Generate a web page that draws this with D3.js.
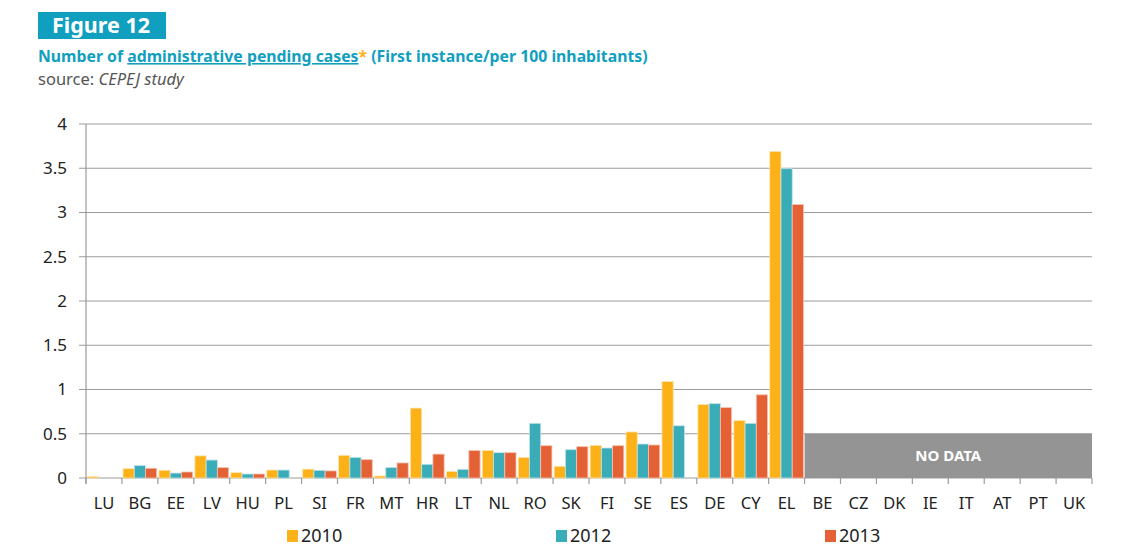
<!DOCTYPE html>
<html>
<head>
<meta charset="utf-8">
<script src="https://cdn.jsdelivr.net/npm/d3@7"></script>
<style>
  body { margin: 0; background: #fff; }
  text { font-family: "Noto Sans", sans-serif; }
</style>
</head>
<body>
<div id="chart"></div>
<script>
// Chart size, same as the window
var svgWidth = 1130;
var svgHeight = 555;

var margin = { top: 124, right: 38, bottom: 77, left: 86 };
var width = svgWidth - margin.left - margin.right;
var height = svgHeight - margin.top - margin.bottom;

// Data
var countries = ["LU","BG","EE","LV","HU","PL","SI","FR","MT","HR","LT","NL","RO","SK","FI","SE","ES","DE","CY","EL","BE","CZ","DK","IE","IT","AT","PT","UK"];
var v2010 = [0.015,0.105,0.087,0.25,0.06,0.09,0.10,0.256,0.023,0.79,0.075,0.31,0.233,0.132,0.369,0.52,1.09,0.83,0.648,3.69,null,null,null,null,null,null,null,null];
var v2012 = [0,0.14,0.056,0.203,0.045,0.09,0.087,0.233,0.12,0.155,0.098,0.286,0.618,0.32,0.339,0.384,0.59,0.84,0.618,3.495,null,null,null,null,null,null,null,null];
var v2013 = [0,0.11,0.068,0.117,0.045,0,0.08,0.207,0.17,0.27,0.31,0.286,0.365,0.354,0.365,0.373,0,0.795,0.94,3.09,null,null,null,null,null,null,null,null];
var years = ["2010", "2012", "2013"];
var yTicks = [0, 0.5, 1, 1.5, 2, 2.5, 3, 3.5, 4];
var noDataValue = 0.5;

var colors = ["#fdb119", "#3aacb8", "#e46136"];
var edges = ["#fde3b0", "#bfe4e8", "#f5c3b2"];

var series = [v2010, v2012, v2013];

var svg = d3.select("#chart")
  .append("svg")
  .attr("width", svgWidth)
  .attr("height", svgHeight);

// Heading
svg.append("rect")
  .attr("x", 38).attr("y", 12)
  .attr("width", 128).attr("height", 27)
  .attr("fill", "#119fbf");

svg.append("text")
  .attr("x", 52).attr("y", 33)
  .attr("fill", "#fff")
  .attr("font-size", 21.5)
  .attr("font-weight", "bold")
  .text("Figure 12");

var title = svg.append("text")
  .attr("x", 38).attr("y", 62)
  .attr("fill", "#119fbf")
  .attr("font-size", 15.8)
  .attr("font-weight", "bold");
title.append("tspan").text("Number of ");
title.append("tspan").attr("text-decoration", "underline").text("administrative pending cases");
title.append("tspan").attr("fill", "#fdb119").text("*");
title.append("tspan").text(" (First instance/per 100 inhabitants)");

var source = svg.append("text")
  .attr("x", 38).attr("y", 85)
  .attr("fill", "#555")
  .attr("font-size", 16.5);
source.append("tspan").text("source: ");
source.append("tspan").attr("font-style", "italic").text("CEPEJ study");

var chartGroup = svg.append("g")
  .attr("transform", `translate(${margin.left}, ${margin.top})`);

// Scales
var xScale = d3.scaleBand()
  .domain(countries)
  .range([0, width]);

var xInner = d3.scaleBand()
  .domain(years)
  .range([0, xScale.bandwidth()])
  .paddingInner(0)
  .paddingOuter(0.1);

var yScale = d3.scaleLinear()
  .domain([0, 4])
  .range([height, 0]);

// Gridlines
chartGroup.append("g")
  .selectAll("line")
  .data(yTicks)
  .enter()
  .append("line")
  .attr("x1", -7)
  .attr("x2", width)
  .attr("y1", d => yScale(d))
  .attr("y2", d => yScale(d))
  .attr("stroke", "#9b9b9b")
  .attr("stroke-width", 1.2);

// Y labels
chartGroup.append("g")
  .selectAll("text")
  .data(yTicks)
  .enter()
  .append("text")
  .attr("x", -19)
  .attr("y", d => yScale(d))
  .attr("dy", "0.35em")
  .attr("text-anchor", "end")
  .attr("font-size", 17)
  .attr("fill", "#222")
  .text(d => d);

// No data box
var firstMissing = countries[v2010.indexOf(null)];
chartGroup.append("rect")
  .attr("x", xScale(firstMissing))
  .attr("y", yScale(noDataValue))
  .attr("width", width - xScale(firstMissing))
  .attr("height", height - yScale(noDataValue))
  .attr("fill", "#949494");

chartGroup.append("text")
  .attr("x", (xScale(firstMissing) + width) / 2)
  .attr("y", yScale(noDataValue / 2))
  .attr("dy", "0.35em")
  .attr("text-anchor", "middle")
  .attr("fill", "#fff")
  .attr("font-size", 15)
  .attr("font-weight", "bold")
  .text("NO DATA");

// Bars
series.forEach(function(vals, s) {
  chartGroup.append("g")
    .selectAll("rect")
    .data(countries.map((c, i) => ({ c: c, v: vals[i] })).filter(d => d.v))
    .enter()
    .append("rect")
    .attr("x", d => xScale(d.c) + xInner(years[s]))
    .attr("y", d => yScale(d.v))
    .attr("width", xInner.bandwidth())
    .attr("height", d => height - yScale(d.v))
    .attr("fill", colors[s])
    .attr("stroke", edges[s])
    .attr("stroke-width", 0.8);
});

// Axes lines
chartGroup.append("line")
  .attr("x1", 0).attr("x2", 0)
  .attr("y1", 0).attr("y2", height + 6)
  .attr("stroke", "#9b9b9b")
  .attr("stroke-width", 1.2);

chartGroup.append("g")
  .selectAll("line")
  .data(countries.concat(["end"]))
  .enter()
  .append("line")
  .attr("x1", d => d === "end" ? width : xScale(d))
  .attr("x2", d => d === "end" ? width : xScale(d))
  .attr("y1", height)
  .attr("y2", height + 6)
  .attr("stroke", "#9b9b9b")
  .attr("stroke-width", 1.2);

// X labels
chartGroup.append("g")
  .selectAll("text")
  .data(countries)
  .enter()
  .append("text")
  .attr("x", d => xScale(d) + xScale.bandwidth() / 2)
  .attr("y", height + 31)
  .attr("text-anchor", "middle")
  .attr("font-size", 16.5)
  .attr("fill", "#222")
  .text(d => d);

// Legend
var legendX = [287, 556, 825];
var legend = svg.append("g")
  .selectAll("g")
  .data(years)
  .enter()
  .append("g")
  .attr("transform", (d, i) => `translate(${legendX[i]}, 530)`);

legend.append("rect")
  .attr("width", 11)
  .attr("height", 12)
  .attr("fill", (d, i) => colors[i]);

legend.append("text")
  .attr("x", 14)
  .attr("y", 12)
  .attr("font-size", 18)
  .attr("fill", "#222")
  .text(d => d);
</script>
</body>
</html>
